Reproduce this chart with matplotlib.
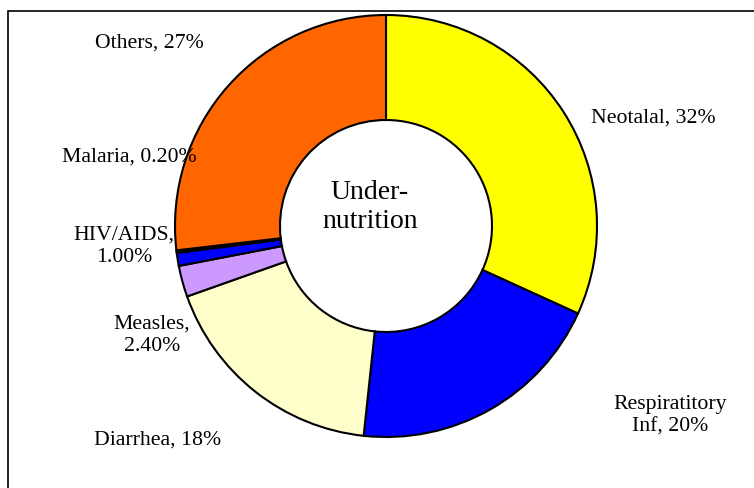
import matplotlib.pyplot as plt
from matplotlib.patches import Rectangle

plt.rcParams['font.family'] = ['Liberation Serif', 'DejaVu Serif']

causes = ['Neotalal', 'Respiratitory\nInf', 'Diarrhea', 'Measles,\n', 'HIV/AIDS,\n', 'Malaria', 'Others']
shares = [32, 20, 18, 2.4, 1.0, 0.2, 27]
share_text = ['32%', '20%', '18%', '2.40%', '1.00%', '0.20%', '27%']
colors = ['#FFFF00', '#0000FF', '#FFFFCC', '#CC99FF', '#0000FF', '#000000', '#FF6600']

# label anchor points (pixels from top-left)
label_pos = [(653, 118), (670, 416), (158, 440), (152, 335), (124, 246), (129, 157), (149, 43)]

W, H = 754, 489
fig = plt.figure(figsize=(W / 100, H / 100), dpi=100)
ax = fig.add_axes([0, 0, 1, 1])
ax.axis('off')

ax.pie(shares, colors=colors, startangle=90, counterclock=False,
       center=(386, H - 227), radius=211,
       wedgeprops=dict(width=105, edgecolor='black', linewidth=1.5))
ax.set_xlim(0, W)
ax.set_ylim(0, H)
ax.set_aspect('equal')

for name, txt, (x, y) in zip(causes, share_text, label_pos):
    if name.endswith('\n'):
        s = name + txt
    else:
        s = name + ', ' + txt
    ax.text(x, H - y, s, ha='center', va='center', fontsize=15.7, linespacing=1.22)

ax.text(370, H - 207, 'Under-\nnutrition', ha='center', va='center', fontsize=20, linespacing=1.18)

ax.add_patch(Rectangle((8, -10), 800, H - 12 + 10, fill=False, edgecolor='black', linewidth=1.2))

fig.savefig('out.png', dpi=100)
